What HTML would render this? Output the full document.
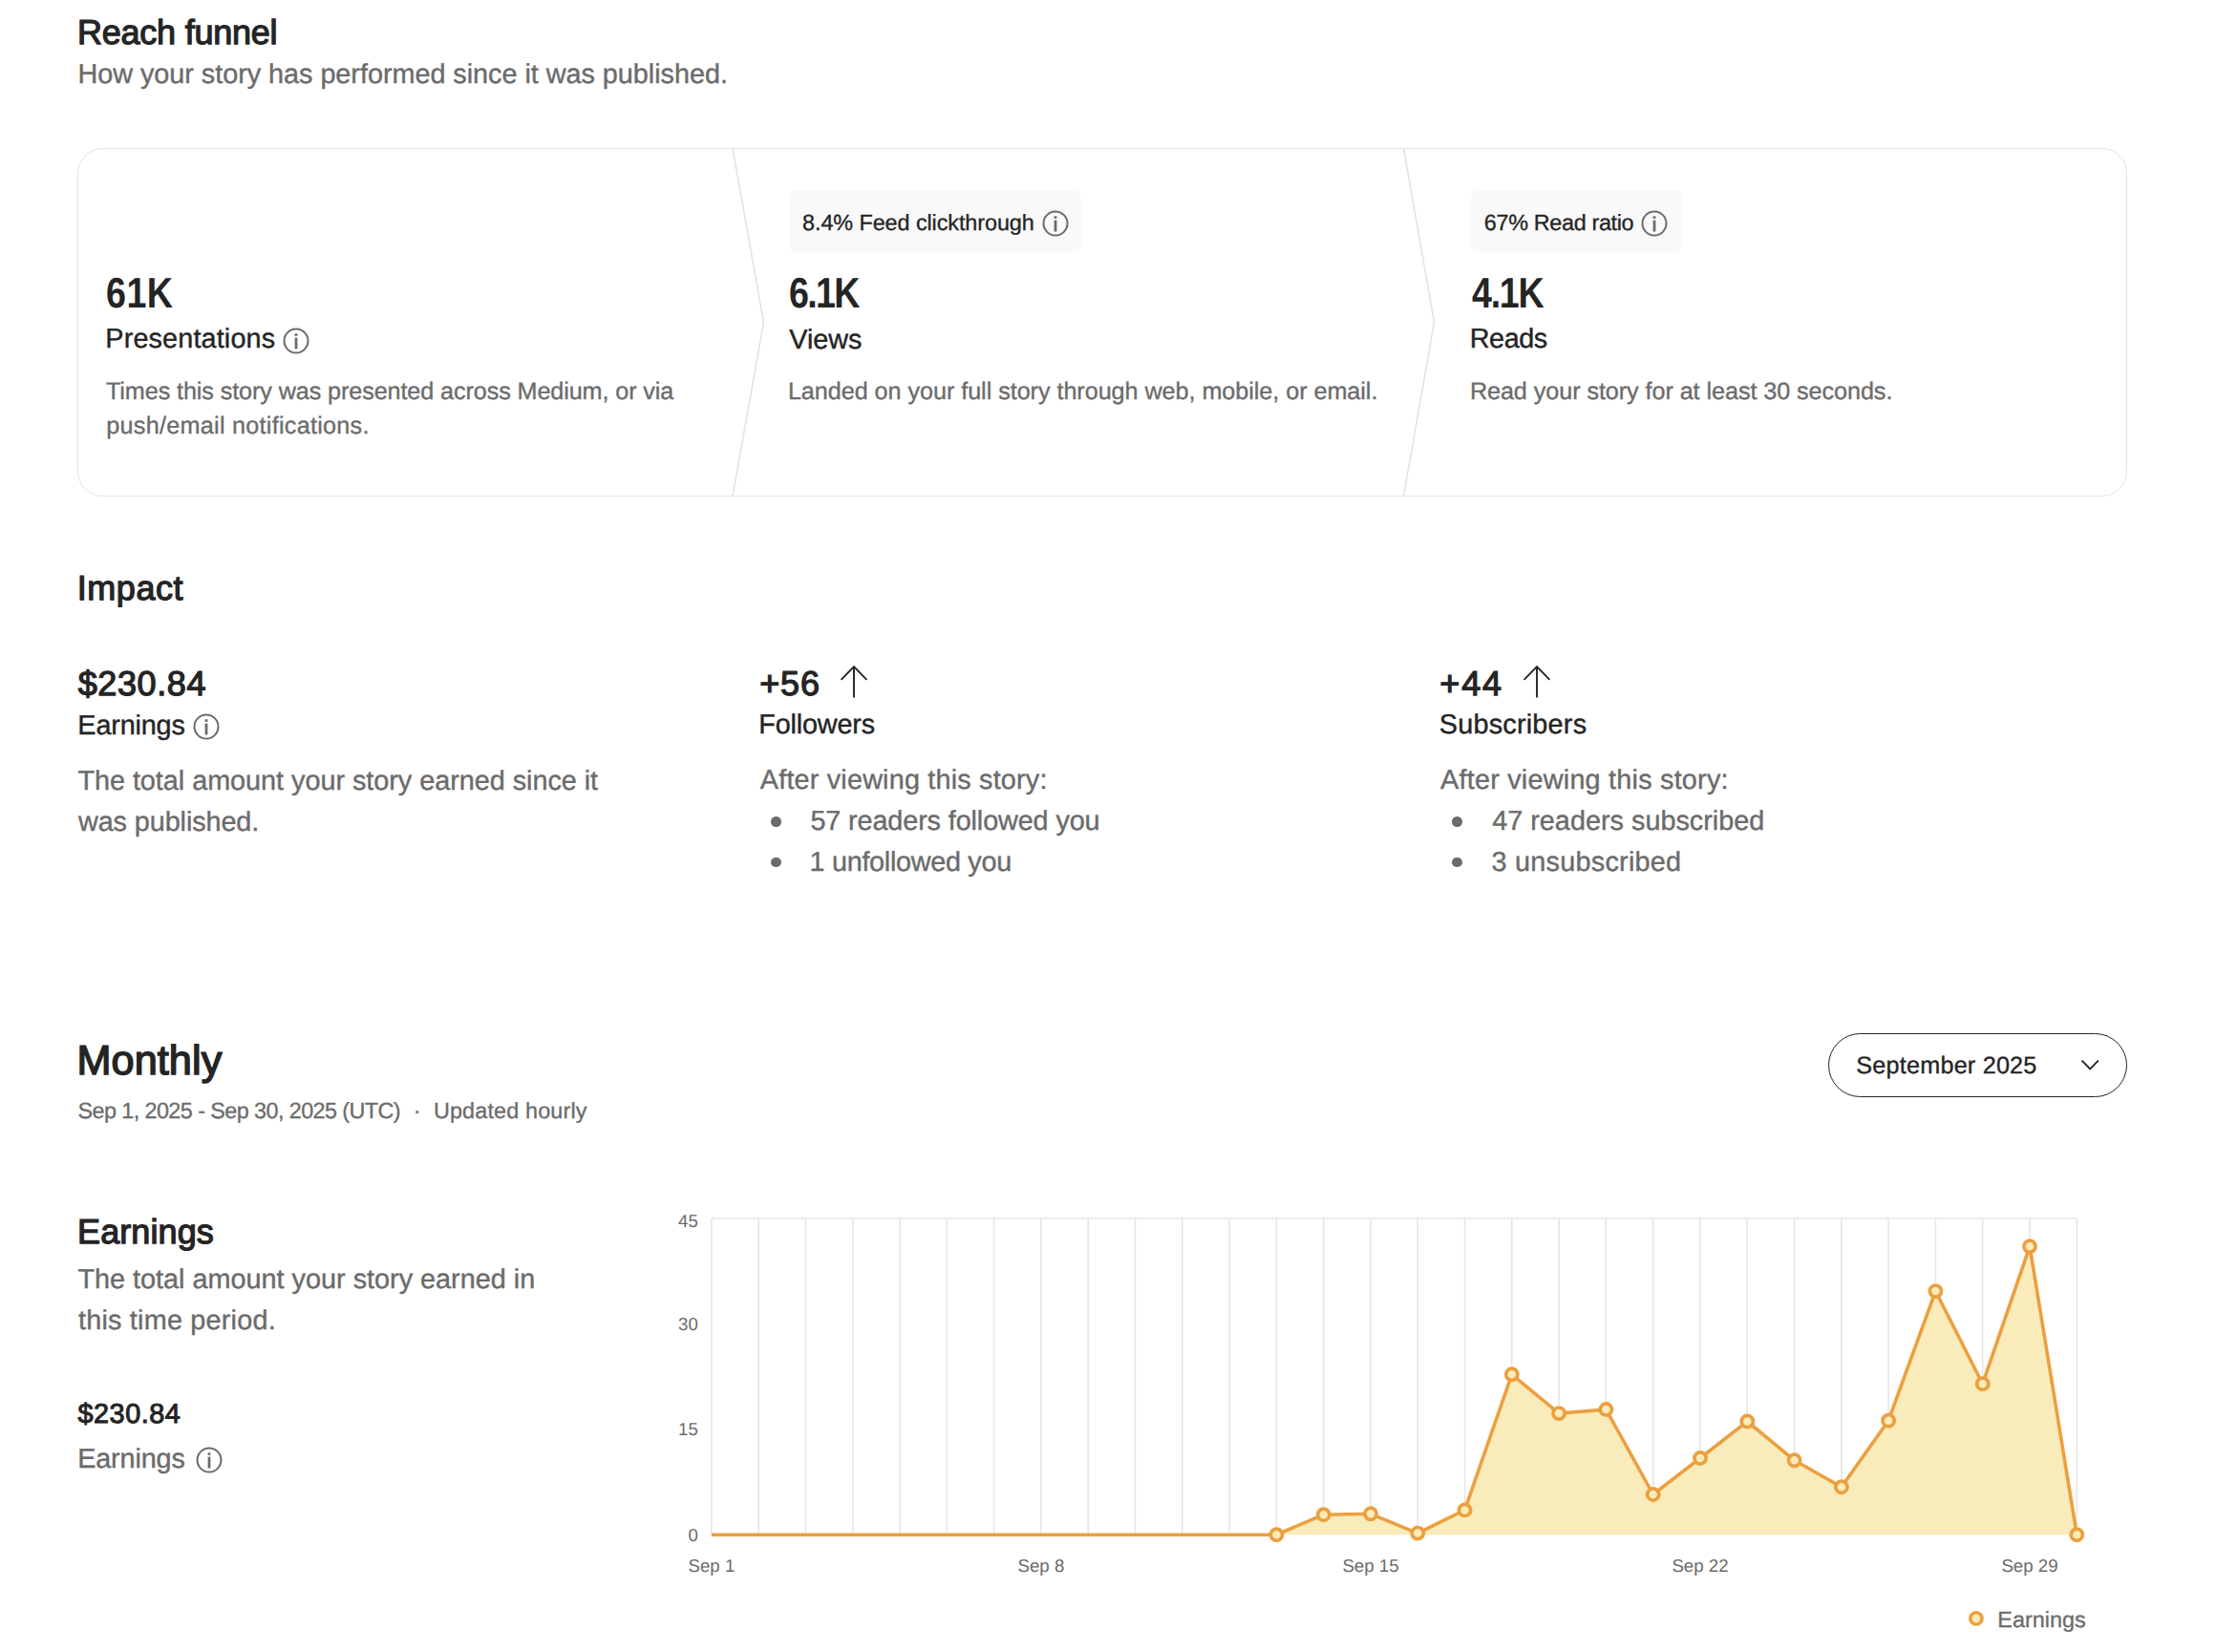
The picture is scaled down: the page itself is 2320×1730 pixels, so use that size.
<!DOCTYPE html>
<html lang="en">
<head>
<meta charset="utf-8">
<title>Story stats</title>
<style>
*{margin:0;padding:0;box-sizing:border-box}
html,body{width:2320px;height:1730px;background:#fff;overflow:hidden}
body{position:relative;font-family:"Liberation Sans",Arial,sans-serif;color:#242424;text-rendering:geometricPrecision}
.t{position:absolute;white-space:nowrap;margin:0;font-style:normal}
ul{list-style:none}
.ic,.chart{position:absolute;overflow:visible}
.funnel{position:absolute;left:80.9px;top:155px;width:2146.4px;height:365px;border:1px solid #e4e4e4;border-radius:26.5px}
.chev{position:absolute;left:0;top:0}
.pill{position:absolute;top:199px;height:64.5px;background:#f9f9f9;border-radius:8px}
.bul{position:absolute;width:10.6px;height:10.6px;border-radius:50%;background:#6b6b6b}
.select{position:absolute;left:1914px;top:1082px;width:313.2px;height:66.8px;border:1.3px solid #242424;border-radius:34px;background:#fff}
.h-reach{left:81.04px;top:10.00px;font-size:36px;line-height:47px;font-weight:400;-webkit-text-stroke:1.25px #242424;color:#242424;letter-spacing:-0.238px;}
.sub-reach{left:81.45px;top:59.50px;font-size:28.8px;line-height:37px;font-weight:400;-webkit-text-stroke:0.40px #6b6b6b;color:#6b6b6b;letter-spacing:-0.027px;}
.n1{left:110.66px;top:278.00px;font-size:44.8px;line-height:58px;font-weight:700;transform:scaleX(0.84);transform-origin:0 0;color:#242424;letter-spacing:0.536px;}
.l1{left:110.37px;top:336.50px;font-size:28.8px;line-height:37px;font-weight:400;-webkit-text-stroke:0.40px #242424;color:#242424;letter-spacing:0.137px;}
.d1{left:111.00px;top:392.00px;font-size:25.2px;line-height:36px;font-weight:400;-webkit-text-stroke:0.35px #6b6b6b;color:#6b6b6b;letter-spacing:-0.102px;}
.p2{left:840.10px;top:218.00px;font-size:23.4px;line-height:30px;font-weight:400;-webkit-text-stroke:0.32px #242424;color:#242424;letter-spacing:-0.084px;}
.n2{left:825.56px;top:278.00px;font-size:44.8px;line-height:58px;font-weight:700;transform:scaleX(0.84);transform-origin:0 0;color:#242424;letter-spacing:-2.008px;}
.l2{left:826.31px;top:337.50px;font-size:28.8px;line-height:37px;font-weight:400;-webkit-text-stroke:0.40px #242424;color:#242424;letter-spacing:-0.073px;}
.d2{left:824.88px;top:393.50px;font-size:25.2px;line-height:33px;font-weight:400;-webkit-text-stroke:0.35px #6b6b6b;color:#6b6b6b;letter-spacing:-0.049px;}
.p3{left:1553.84px;top:218.00px;font-size:23.4px;line-height:30px;font-weight:400;-webkit-text-stroke:0.32px #242424;color:#242424;letter-spacing:-0.344px;}
.n3{left:1540.56px;top:278.00px;font-size:44.8px;line-height:58px;font-weight:700;transform:scaleX(0.84);transform-origin:0 0;color:#242424;letter-spacing:-1.513px;}
.l3{left:1538.69px;top:336.50px;font-size:28.8px;line-height:37px;font-weight:400;-webkit-text-stroke:0.40px #242424;color:#242424;letter-spacing:-0.427px;}
.d3{left:1538.88px;top:393.50px;font-size:25.2px;line-height:33px;font-weight:400;-webkit-text-stroke:0.35px #6b6b6b;color:#6b6b6b;letter-spacing:-0.069px;}
.h-impact{left:80.79px;top:592.00px;font-size:36px;line-height:47px;font-weight:400;-webkit-text-stroke:1.25px #242424;color:#242424;letter-spacing:0.551px;}
.i1n{left:81.67px;top:692.00px;font-size:36px;line-height:47px;font-weight:400;-webkit-text-stroke:1.25px #242424;color:#242424;letter-spacing:0.620px;}
.i1l{left:81.37px;top:741.50px;font-size:28.8px;line-height:37px;font-weight:400;-webkit-text-stroke:0.40px #242424;color:#242424;letter-spacing:-0.170px;}
.i1d{left:81.39px;top:796.50px;font-size:28.8px;line-height:43px;font-weight:400;-webkit-text-stroke:0.40px #6b6b6b;color:#6b6b6b;letter-spacing:-0.026px;}
.i2n{left:795.16px;top:692.00px;font-size:36px;line-height:47px;font-weight:400;-webkit-text-stroke:1.25px #242424;color:#242424;letter-spacing:0.848px;}
.i2l{left:794.37px;top:740.50px;font-size:28.8px;line-height:37px;font-weight:400;-webkit-text-stroke:0.40px #242424;color:#242424;letter-spacing:-0.194px;}
.i2d{left:795.84px;top:798.50px;font-size:28.8px;line-height:37px;font-weight:400;-webkit-text-stroke:0.40px #6b6b6b;color:#6b6b6b;letter-spacing:0.187px;}
.i2a{left:848.38px;top:841.50px;font-size:28.8px;line-height:37px;font-weight:400;-webkit-text-stroke:0.40px #6b6b6b;color:#6b6b6b;letter-spacing:-0.115px;}
.i2b{left:847.58px;top:884.50px;font-size:28.8px;line-height:37px;font-weight:400;-webkit-text-stroke:0.40px #6b6b6b;color:#6b6b6b;letter-spacing:-0.303px;}
.i3n{left:1507.37px;top:692.00px;font-size:36px;line-height:47px;font-weight:400;-webkit-text-stroke:1.25px #242424;color:#242424;letter-spacing:1.790px;}
.i3l{left:1506.72px;top:740.50px;font-size:28.8px;line-height:37px;font-weight:400;-webkit-text-stroke:0.40px #242424;color:#242424;letter-spacing:0.227px;}
.i3d{left:1508.10px;top:798.50px;font-size:28.8px;line-height:37px;font-weight:400;-webkit-text-stroke:0.40px #6b6b6b;color:#6b6b6b;letter-spacing:0.224px;}
.i3a{left:1562.16px;top:841.50px;font-size:28.8px;line-height:37px;font-weight:400;-webkit-text-stroke:0.40px #6b6b6b;color:#6b6b6b;letter-spacing:0.013px;}
.i3b{left:1561.50px;top:884.50px;font-size:28.8px;line-height:37px;font-weight:400;-webkit-text-stroke:0.40px #6b6b6b;color:#6b6b6b;letter-spacing:0.254px;}
.h-month{left:80.56px;top:1083.00px;font-size:43.2px;line-height:56px;font-weight:400;-webkit-text-stroke:1.50px #242424;color:#242424;letter-spacing:0.076px;}
.m-date{left:81.49px;top:1148.00px;font-size:23.4px;line-height:30px;font-weight:400;-webkit-text-stroke:0.32px #6b6b6b;color:#6b6b6b;letter-spacing:-0.584px;}
.m-dot{left:432.81px;top:1148.00px;font-size:23.4px;line-height:30px;font-weight:400;-webkit-text-stroke:0.32px #6b6b6b;color:#6b6b6b;}
.m-upd{left:453.92px;top:1148.00px;font-size:23.4px;line-height:30px;font-weight:400;-webkit-text-stroke:0.32px #6b6b6b;color:#6b6b6b;letter-spacing:0.145px;}
.e-h{left:81.04px;top:1266.00px;font-size:36px;line-height:47px;font-weight:400;-webkit-text-stroke:1.25px #242424;color:#242424;letter-spacing:0.100px;}
.e-d{left:81.39px;top:1318.50px;font-size:28.8px;line-height:43px;font-weight:400;-webkit-text-stroke:0.40px #6b6b6b;color:#6b6b6b;letter-spacing:0.006px;}
.e-n{left:81.60px;top:1462.50px;font-size:28.8px;line-height:37px;font-weight:400;-webkit-text-stroke:1.00px #242424;color:#242424;letter-spacing:0.499px;}
.e-l{left:81.13px;top:1509.50px;font-size:28.8px;line-height:37px;font-weight:400;-webkit-text-stroke:0.40px #6b6b6b;color:#6b6b6b;letter-spacing:-0.141px;}
.sel{left:1943.34px;top:1099.50px;font-size:25.2px;line-height:33px;font-weight:400;-webkit-text-stroke:0.35px #242424;color:#242424;letter-spacing:0.214px;}
.leg{left:2091.27px;top:1681.00px;font-size:23.4px;line-height:30px;font-weight:400;-webkit-text-stroke:0.32px #6b6b6b;color:#6b6b6b;letter-spacing:0.032px;}
</style>
</head>
<body>
<section aria-label="Reach funnel">
<h2 class="t h-reach">Reach funnel</h2>
<p class="t sub-reach">How your story has performed since it was published.</p>
<div class="funnel"></div>
<svg class="ic chev" width="2320" height="560" viewBox="0 0 2320 560" aria-hidden="true"><path d="M767 155.5L799.5 337.5L767 519.5M1469.5 155.5L1501.5 337.5L1469.5 519.5" fill="none" stroke="#e4e4e4" stroke-width="1.6"/></svg>
<article>
<div class="t n1">61K</div><div class="t l1">Presentations</div><svg class="ic" style="left:295.4px;top:342.0px" width="30" height="30" viewBox="-15 -15 30 30" aria-hidden="true"><circle r="12.5" fill="none" stroke="#6b6b6b" stroke-width="2"/><rect x="-1.4" y="-7.7" width="2.8" height="2.6" fill="#6b6b6b"/><rect x="-1.4" y="-3.4" width="2.8" height="11.9" fill="#6b6b6b"/></svg>
<p class="t d1">Times this story was presented across Medium, or via<br><span style="margin-left:0.3px;letter-spacing:0.264px">push/email notifications.</span></p>
</article>
<article>
<div class="pill" style="left:826.1px;width:306.2px"></div><span class="t p2">8.4% Feed clickthrough</span><svg class="ic" style="left:1089.6px;top:219.1px" width="30" height="30" viewBox="-15 -15 30 30" aria-hidden="true"><circle r="12.5" fill="none" stroke="#6b6b6b" stroke-width="2"/><rect x="-1.4" y="-7.7" width="2.8" height="2.6" fill="#6b6b6b"/><rect x="-1.4" y="-3.4" width="2.8" height="11.9" fill="#6b6b6b"/></svg>
<div class="t n2">6.1K</div><div class="t l2">Views</div>
<p class="t d2">Landed on your full story through web, mobile, or email.</p>
</article>
<article>
<div class="pill" style="left:1540px;width:221.1px"></div><span class="t p3">67% Read ratio</span><svg class="ic" style="left:1717.2px;top:219.1px" width="30" height="30" viewBox="-15 -15 30 30" aria-hidden="true"><circle r="12.5" fill="none" stroke="#6b6b6b" stroke-width="2"/><rect x="-1.4" y="-7.7" width="2.8" height="2.6" fill="#6b6b6b"/><rect x="-1.4" y="-3.4" width="2.8" height="11.9" fill="#6b6b6b"/></svg>
<div class="t n3">4.1K</div><div class="t l3">Reads</div>
<p class="t d3">Read your story for at least 30 seconds.</p>
</article>
</section>
<section aria-label="Impact">
<h2 class="t h-impact">Impact</h2>
<article>
<div class="t i1n">$230.84</div><div class="t i1l">Earnings</div><svg class="ic" style="left:201.3px;top:745.7px" width="30" height="30" viewBox="-15 -15 30 30" aria-hidden="true"><circle r="12.5" fill="none" stroke="#6b6b6b" stroke-width="2"/><rect x="-1.4" y="-7.7" width="2.8" height="2.6" fill="#6b6b6b"/><rect x="-1.4" y="-3.4" width="2.8" height="11.9" fill="#6b6b6b"/></svg>
<p class="t i1d">The total amount your story earned since it<br><span style="margin-left:0.6px;letter-spacing:-0.092px">was published.</span></p>
</article>
<article>
<div class="t i2n">+56</div><svg class="ic" style="left:875.6px;top:693.4px" width="36" height="42" viewBox="-18 -4 36 42" aria-hidden="true"><path d="M0 33.6V0.8M-13.4 14.8L0 1.2L13.4 14.8" fill="none" stroke="#242424" stroke-width="1.9" stroke-linejoin="miter"/></svg><div class="t i2l">Followers</div>
<p class="t i2d">After viewing this story:</p>
<ul><li class="t i2a"><span class="bul" style="left:-40.98px;top:13.60px"></span>57 readers followed you</li><li class="t i2b"><span class="bul" style="left:-40.18px;top:13.30px"></span>1 unfollowed you</li></ul>
</article>
<article>
<div class="t i3n">+44</div><svg class="ic" style="left:1590.6px;top:693.4px" width="36" height="42" viewBox="-18 -4 36 42" aria-hidden="true"><path d="M0 33.6V0.8M-13.4 14.8L0 1.2L13.4 14.8" fill="none" stroke="#242424" stroke-width="1.9" stroke-linejoin="miter"/></svg><div class="t i3l">Subscribers</div>
<p class="t i3d">After viewing this story:</p>
<ul><li class="t i3a"><span class="bul" style="left:-41.76px;top:13.60px"></span>47 readers subscribed</li><li class="t i3b"><span class="bul" style="left:-41.10px;top:13.30px"></span>3 unsubscribed</li></ul>
</article>
</section>
<section aria-label="Monthly">
<h2 class="t h-month">Monthly</h2>
<p class="t m-date">Sep 1, 2025 - Sep 30, 2025 (UTC)</p><span class="t m-dot">·</span><span class="t m-upd">Updated hourly</span>
<div class="select"></div><span class="t sel">September 2025</span>
<svg class="ic" style="left:2174px;top:1104px" width="28" height="22" viewBox="2174 1104 28 22" aria-hidden="true"><path d="M2179.6 1110.6L2188.2 1119.3L2196.8 1110.6" fill="none" stroke="#242424" stroke-width="1.9"/></svg>
<h3 class="t e-h">Earnings</h3>
<p class="t e-d">The total amount your story earned in<br><span style="margin-left:0.6px;letter-spacing:0.215px">this time period.</span></p>
<div class="t e-n">$230.84</div><div class="t e-l">Earnings</div><svg class="ic" style="left:203.7px;top:1513.7px" width="30" height="30" viewBox="-15 -15 30 30" aria-hidden="true"><circle r="12.5" fill="none" stroke="#6b6b6b" stroke-width="2"/><rect x="-1.4" y="-7.7" width="2.8" height="2.6" fill="#6b6b6b"/><rect x="-1.4" y="-3.4" width="2.8" height="11.9" fill="#6b6b6b"/></svg>
<svg class="chart" style="left:690px;top:1250px" width="1600" height="480" viewBox="690 1250 1600 480" role="img" aria-label="Earnings chart"><path d="M744.9 1275.8V1606.4M794.2 1275.8V1606.4M843.5 1275.8V1606.4M892.8 1275.8V1606.4M942.1 1275.8V1606.4M991.3 1275.8V1606.4M1040.6 1275.8V1606.4M1089.9 1275.8V1606.4M1139.2 1275.8V1606.4M1188.5 1275.8V1606.4M1237.8 1275.8V1606.4M1287.1 1275.8V1606.4M1336.4 1275.8V1606.4M1385.7 1275.8V1606.4M1435.0 1275.8V1606.4M1484.2 1275.8V1606.4M1533.5 1275.8V1606.4M1582.8 1275.8V1606.4M1632.1 1275.8V1606.4M1681.4 1275.8V1606.4M1730.7 1275.8V1606.4M1780.0 1275.8V1606.4M1829.3 1275.8V1606.4M1878.6 1275.8V1606.4M1927.9 1275.8V1606.4M1977.1 1275.8V1606.4M2026.4 1275.8V1606.4M2075.7 1275.8V1606.4M2125.0 1275.8V1606.4M2174.3 1275.8V1606.4M744.9 1275.8H2174.3" stroke="#e6e6e6" stroke-width="1.6" fill="none"/><polygon points="744.9,1607.2 744.9,1607.2 794.2,1607.2 843.5,1607.2 892.8,1607.2 942.1,1607.2 991.3,1607.2 1040.6,1607.2 1089.9,1607.2 1139.2,1607.2 1188.5,1607.2 1237.8,1607.2 1287.1,1607.2 1336.4,1607.2 1385.7,1586.2 1435.0,1585.3 1484.2,1605.6 1533.5,1581.4 1582.8,1439.3 1632.1,1480.1 1681.4,1476.0 1730.7,1565.0 1780.0,1527.0 1829.3,1488.5 1878.6,1529.3 1927.9,1557.2 1977.1,1487.7 2026.4,1352.1 2075.7,1449.2 2125.0,1305.3 2174.3,1607.2 2174.3,1607.2" fill="#f9ecba"/><polyline points="744.9,1607.2 794.2,1607.2 843.5,1607.2 892.8,1607.2 942.1,1607.2 991.3,1607.2 1040.6,1607.2 1089.9,1607.2 1139.2,1607.2 1188.5,1607.2 1237.8,1607.2 1287.1,1607.2 1336.4,1607.2 1385.7,1586.2 1435.0,1585.3 1484.2,1605.6 1533.5,1581.4 1582.8,1439.3 1632.1,1480.1 1681.4,1476.0 1730.7,1565.0 1780.0,1527.0 1829.3,1488.5 1878.6,1529.3 1927.9,1557.2 1977.1,1487.7 2026.4,1352.1 2075.7,1449.2 2125.0,1305.3 2174.3,1607.2" fill="none" stroke="#ec9f40" stroke-width="3.6" stroke-linejoin="round"/><g fill="#f9ecba" stroke="#ec9f40" stroke-width="3.7"><circle cx="1336.4" cy="1607.2" r="6.1"/><circle cx="1385.7" cy="1586.2" r="6.1"/><circle cx="1435.0" cy="1585.3" r="6.1"/><circle cx="1484.2" cy="1605.6" r="6.1"/><circle cx="1533.5" cy="1581.4" r="6.1"/><circle cx="1582.8" cy="1439.3" r="6.1"/><circle cx="1632.1" cy="1480.1" r="6.1"/><circle cx="1681.4" cy="1476.0" r="6.1"/><circle cx="1730.7" cy="1565.0" r="6.1"/><circle cx="1780.0" cy="1527.0" r="6.1"/><circle cx="1829.3" cy="1488.5" r="6.1"/><circle cx="1878.6" cy="1529.3" r="6.1"/><circle cx="1927.9" cy="1557.2" r="6.1"/><circle cx="1977.1" cy="1487.7" r="6.1"/><circle cx="2026.4" cy="1352.1" r="6.1"/><circle cx="2075.7" cy="1449.2" r="6.1"/><circle cx="2125.0" cy="1305.3" r="6.1"/><circle cx="2174.3" cy="1607.2" r="6.1"/></g><g font-family="'Liberation Sans',Arial,sans-serif" font-size="18.7" fill="#6b6b6b"><text x="730.8" y="1285.1" text-anchor="end">45</text><text x="730.8" y="1392.8" text-anchor="end">30</text><text x="730.8" y="1503.3" text-anchor="end">15</text><text x="730.8" y="1613.7" text-anchor="end">0</text><text x="744.9" y="1645.7" text-anchor="middle">Sep 1</text><text x="1089.9" y="1645.7" text-anchor="middle">Sep 8</text><text x="1435.0" y="1645.7" text-anchor="middle">Sep 15</text><text x="1780.0" y="1645.7" text-anchor="middle">Sep 22</text><text x="2125.0" y="1645.7" text-anchor="middle">Sep 29</text></g><circle cx="2068.9" cy="1694.9" r="6.1" fill="#f9ecba" stroke="#ec9f40" stroke-width="3.6"/></svg>
<span class="t leg">Earnings</span>
</section>
</body>
</html>
